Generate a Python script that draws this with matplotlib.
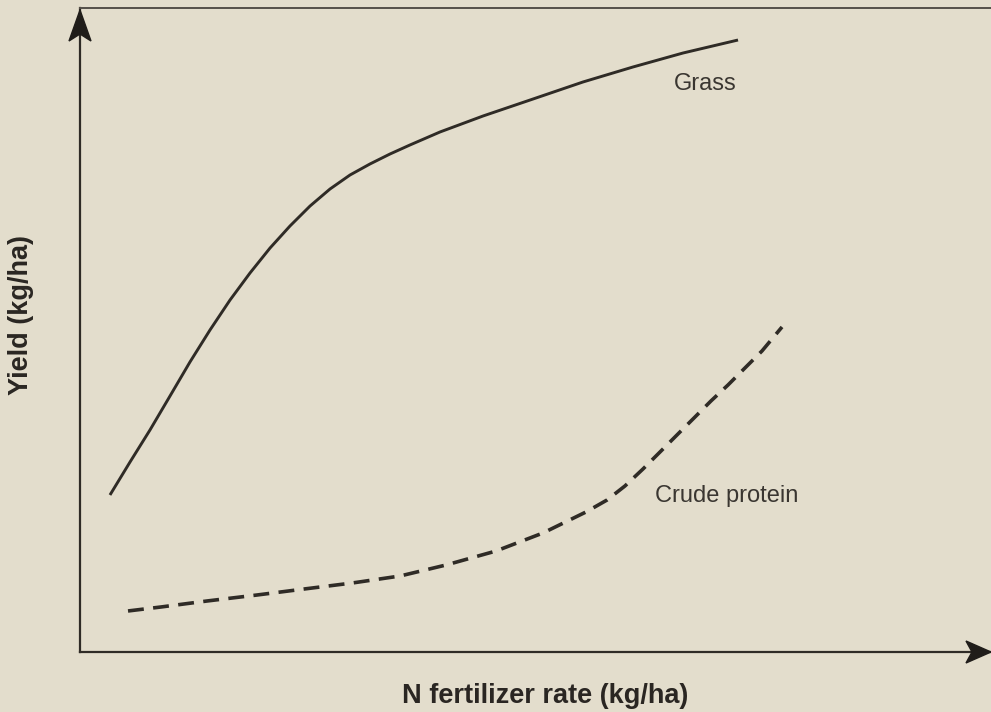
import numpy as np
import matplotlib.pyplot as plt
from matplotlib.patches import Polygon

# curves (axis units 0-100, the chart has no scale)
grass_x = [3.29, 5.49, 7.68, 9.88, 12.07, 14.27, 16.47, 18.66, 20.86, 23.05, 25.25, 27.44,
           29.64, 31.83, 34.03, 36.22, 39.52, 44.24, 49.40, 55.21, 60.70, 66.19, 72.23]
grass_y = [24.38, 29.50, 34.47, 39.75, 45.03, 50.00, 54.66, 58.85, 62.73, 66.15, 69.25, 71.89,
           74.07, 75.78, 77.33, 78.73, 80.75, 83.23, 85.71, 88.51, 90.84, 93.01, 95.03]

protein_x = [5.27, 8.89, 13.94, 19.43, 24.59, 29.86, 35.13, 40.18, 45.66, 50.82, 55.54,
             57.85, 59.82, 61.80, 63.67, 65.53, 67.40, 69.26, 71.13, 72.99, 74.86, 77.06]
protein_y = [6.37, 6.99, 7.92, 8.85, 9.78, 10.71, 11.80, 13.51, 15.68, 18.48, 21.74,
             23.60, 25.78, 28.42, 31.06, 33.70, 36.34, 38.98, 41.46, 44.10, 46.74, 50.47]

bg = '#e3ddcc'
ink = '#2f2b26'

W, H = 991, 712
plt.rcParams['font.family'] = ['Liberation Sans', 'DejaVu Sans']
fig = plt.figure(figsize=(W / 100, H / 100), dpi=100, facecolor=bg)

# axes box in pixels: left 80, right 991, top 8, bottom 652
ax = fig.add_axes([80 / W, (H - 652) / H, (W - 80) / W, (652 - 8) / H])
ax.set_facecolor(bg)
ax.set_xlim(0, 100)
ax.set_ylim(0, 100)
ax.set_xticks([])
ax.set_yticks([])
ax.spines['right'].set_visible(False)
ax.spines['left'].set_color(ink)
ax.spines['left'].set_linewidth(1.6)
ax.spines['bottom'].set_color(ink)
ax.spines['bottom'].set_linewidth(1.6)
ax.spines['top'].set_color('#555049')
ax.spines['top'].set_linewidth(1.4)

ax.plot(grass_x, grass_y, color=ink, lw=2.1, solid_capstyle='butt', solid_joinstyle='round')
ax.plot(protein_x, protein_y, color=ink, lw=2.6, dashes=(4.4, 2.6))

ax.text(72.1, 87.3, 'Grass', ha='right', va='baseline', fontsize=17, color='#3a3631')
ax.text(63.1, 23.3, 'Crude protein', ha='left', va='baseline', fontsize=17, color='#3a3631')

# arrowheads (pixel overlay)
ov = fig.add_axes([0, 0, 1, 1], facecolor='none')
ov.set_xlim(0, W)
ov.set_ylim(H, 0)
ov.axis('off')
ov.add_patch(Polygon([(80, 10), (91, 41), (80, 34), (69, 41)], closed=True, color='#201d1a'))
ov.add_patch(Polygon([(991, 652), (966, 641), (972, 652), (966, 663)], closed=True, color='#201d1a'))

fig.text(402 / W, 1 - 703 / H, 'N fertilizer rate (kg/ha)', ha='left', va='baseline',
         fontsize=19.5, fontweight='bold', color='#2a2622')
fig.text(21.5 / W, 1 - 315 / H, 'Yield (kg/ha)', ha='center', va='center', rotation=90,
         fontsize=19.5, fontweight='bold', color='#2a2622')

fig.savefig('out.png', dpi=100, facecolor=bg)
